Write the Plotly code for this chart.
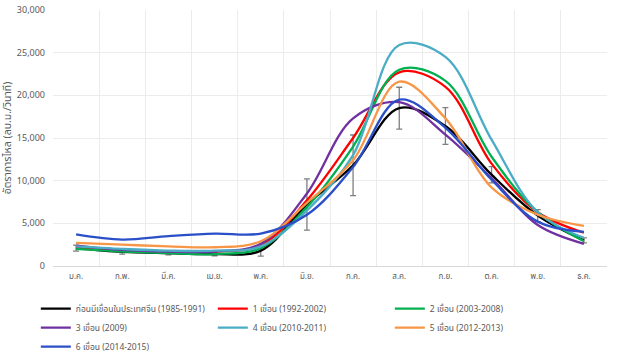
import plotly.graph_objects as go

months = ["ม.ค.", "ก.พ.", "มี.ค.", "เม.ย.", "พ.ค.", "มิ.ย.",
          "ก.ค.", "ส.ค.", "ก.ย.", "ต.ค.", "พ.ย.", "ธ.ค."]

names = [
    "ก่อนมีเขื่อนในประเทศจีน (1985-1991)",
    "1 เขื่อน (1992-2002)",
    "2 เขื่อน (2003-2008)",
    "3 เขื่อน (2009)",
    "4 เขื่อน (2010-2011)",
    "5 เขื่อน (2012-2013)",
    "6 เขื่อน (2014-2015)",
]

pre_dam = [2100, 1650, 1500, 1400, 1800, 7200, 11800, 18500, 16400, 10700, 5900, 3000]
pre_dam_err = [350, 250, 200, 200, 650, 3000, 3550, 2450, 2150, 950, 700, 300]
dam_1 = [2200, 1900, 1700, 1700, 2400, 7700, 15000, 22700, 21000, 12000, 6300, 3900]
dam_2 = [2000, 1700, 1500, 1400, 2100, 6900, 14000, 23000, 21700, 12800, 6300, 2900]
dam_3 = [2400, 1900, 1700, 1700, 2600, 8500, 17300, 19200, 15400, 10300, 4800, 2600]
dam_4 = [2300, 2000, 1800, 1800, 2300, 6500, 13000, 25900, 24500, 14800, 6300, 3300]
dam_5 = [2700, 2500, 2300, 2200, 2900, 7400, 12400, 21600, 17300, 9200, 6000, 4700]
dam_6 = [3700, 3100, 3500, 3800, 3800, 6000, 11600, 19500, 16200, 10100, 5200, 4000]

series = [pre_dam, dam_1, dam_2, dam_3, dam_4, dam_5, dam_6]
colors = ["#000000", "#ff0000", "#00b050", "#7030a0", "#4bacc6", "#f79646", "#2a4fc8"]

x = list(range(len(months)))

fig = go.Figure()
for i, (name, vals, col) in enumerate(zip(names, series, colors)):
    kw = {}
    if i == 0:
        kw["error_y"] = dict(type="data", array=pre_dam_err, visible=True,
                             color="#7f7f7f", thickness=1.3, width=3)
    fig.add_trace(go.Scatter(
        x=x, y=vals, name=name, mode="lines",
        line=dict(color=col, width=2.3, shape="spline", smoothing=1.0),
        **kw,
    ))

fig.update_layout(
    width=626, height=361,
    margin=dict(l=53, r=19, t=10, b=95, autoexpand=False),
    paper_bgcolor="white", plot_bgcolor="white",
    font=dict(family="Noto Sans, Noto Sans Thai, Tahoma, sans-serif", color="#595959", size=8),
    showlegend=True,
    legend=dict(
        orientation="h", x=-0.031, y=-0.11, xanchor="left", yanchor="top",
        entrywidth=132, entrywidthmode="pixels",
        font=dict(size=8.5, color="#595959"),
        tracegroupgap=0, itemwidth=30,
        traceorder="normal",
    ),
)

fig.update_xaxes(
    range=[-0.5, 11.5],
    tickmode="array", tickvals=x, ticktext=months,
    showgrid=False, zeroline=False,
    showline=False, ticks="",
    ticklabelstandoff=4,
    minor=dict(tick0=-0.5, dtick=1, showgrid=True, gridcolor="#ececec", gridwidth=1),
)
fig.update_yaxes(
    range=[0, 30000], dtick=5000, tickformat=",",
    tickfont=dict(size=9),
    showgrid=True, gridcolor="#ececec", gridwidth=1,
    zeroline=True, zerolinecolor="#d9d9d9", zerolinewidth=1,
    ticks="", ticklabelstandoff=7,
    title=dict(text="อัตราการไหล (ลบ.ม./วินาที)", font=dict(size=10.5, color="#595959"), standoff=5),
)

fig.write_html("out.html")
